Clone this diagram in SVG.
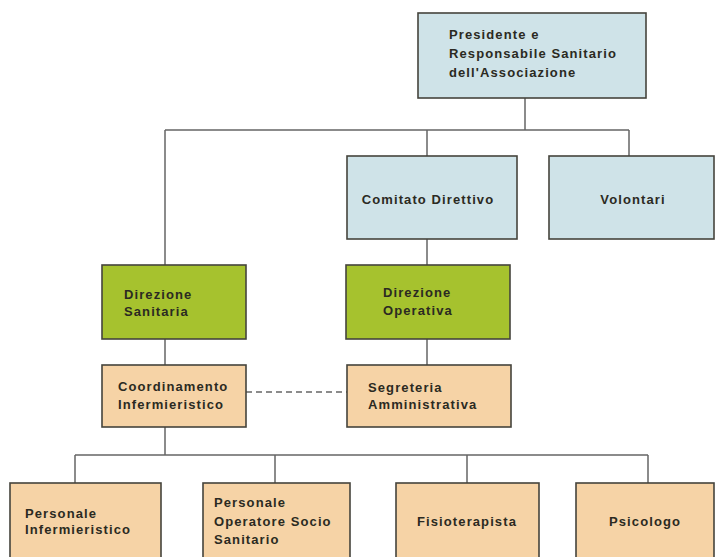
<svg xmlns="http://www.w3.org/2000/svg" width="715" height="557" viewBox="0 0 715 557">
<style>
.box{stroke:#45443c;stroke-width:1.6}
.blue{fill:#cfe3e8}
.green{fill:#a6c22e}
.beige{fill:#f6d3a6}
.t{font-family:"Liberation Sans",Arial,sans-serif;font-size:13px;font-weight:bold;fill:#2b2a22;letter-spacing:1.1px}
.c{text-anchor:middle}
.ln{stroke:#656565;stroke-width:1.5;fill:none}
.dash{stroke-dasharray:6 4}
</style>
<rect width="715" height="557" fill="#ffffff"/>
<g id="connectors">
<path class="ln" d="M525 98V130M165 130H629M165 130V265M427 130V156M629 130V156M427 239V265M165 339V365M427 339V365M165 427V455M75 455H648M75 455V483M275 455V483M467 455V483M648 455V483"/>
<path class="ln dash" d="M246 392H347"/>
</g>
<g id="presidente"><rect class="box blue" x="418" y="13" width="228" height="85"/>
<text class="t" x="449" y="39">Presidente e</text><text class="t" x="449" y="58">Responsabile Sanitario</text><text class="t" x="449" y="77">dell'Associazione</text></g>
<g id="comitato"><rect class="box blue" x="347" y="156" width="170" height="83"/><text class="t c" x="428" y="204">Comitato Direttivo</text></g>
<g id="volontari"><rect class="box blue" x="549" y="156" width="165" height="83"/><text class="t c" x="633" y="204">Volontari</text></g>
<g id="dir-sanitaria"><rect class="box green" x="102" y="265" width="144" height="74"/><text class="t" x="124" y="299">Direzione</text><text class="t" x="124" y="316">Sanitaria</text></g>
<g id="dir-operativa"><rect class="box green" x="346" y="265" width="164" height="74"/><text class="t" x="383" y="297">Direzione</text><text class="t" x="383" y="315">Operativa</text></g>
<g id="coordinamento"><rect class="box beige" x="102" y="365" width="144" height="62"/><text class="t" x="118" y="391">Coordinamento</text><text class="t" x="118" y="409">Infermieristico</text></g>
<g id="segreteria"><rect class="box beige" x="347" y="365" width="164" height="62"/><text class="t" x="368" y="392">Segreteria</text><text class="t" x="368" y="409">Amministrativa</text></g>
<g id="pers-inf"><rect class="box beige" x="10" y="483" width="151" height="80"/><text class="t" x="25" y="518">Personale</text><text class="t" x="25" y="534">Infermieristico</text></g>
<g id="pers-oss"><rect class="box beige" x="203" y="483" width="147" height="80"/><text class="t" x="214" y="507">Personale</text><text class="t" x="214" y="526">Operatore Socio</text><text class="t" x="214" y="544">Sanitario</text></g>
<g id="fisio"><rect class="box beige" x="396" y="483" width="143" height="80"/><text class="t c" x="467" y="526">Fisioterapista</text></g>
<g id="psicologo"><rect class="box beige" x="576" y="483" width="138" height="80"/><text class="t c" x="645" y="526">Psicologo</text></g>
</svg>
